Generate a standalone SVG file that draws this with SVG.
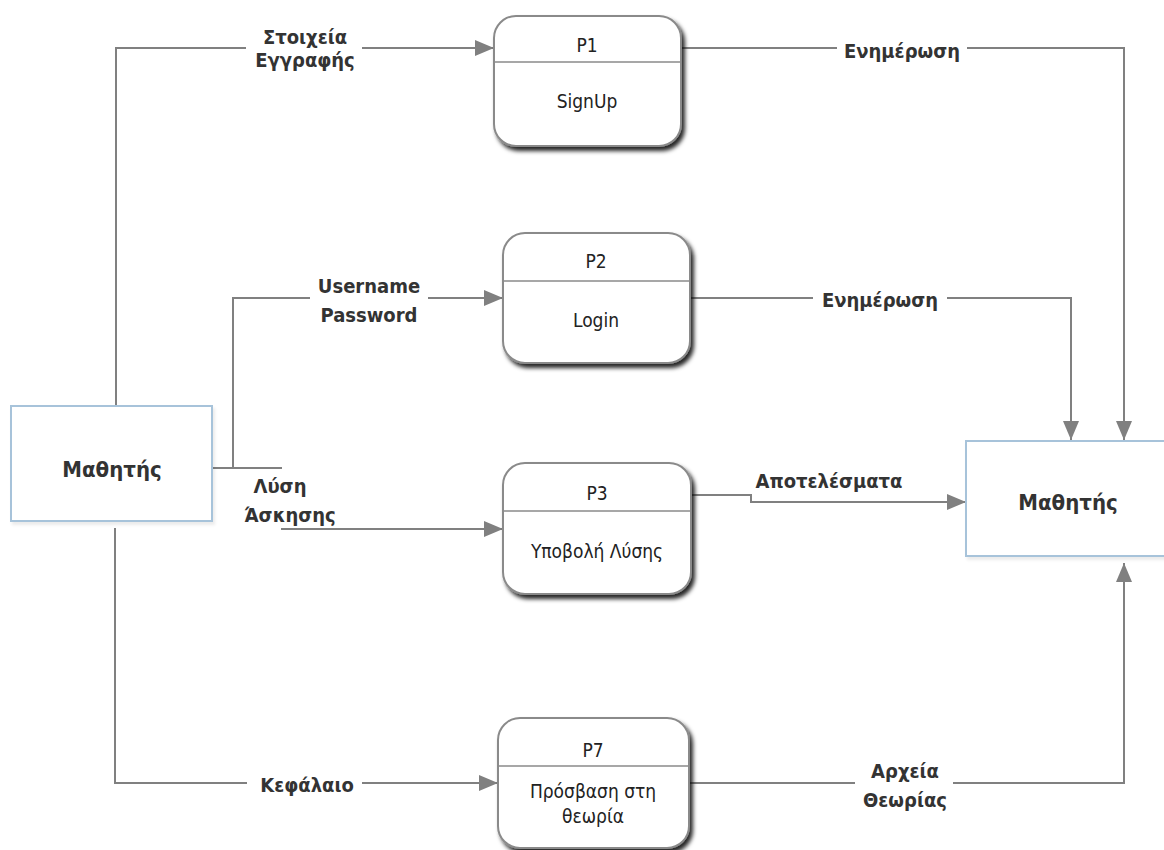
<svg xmlns="http://www.w3.org/2000/svg" width="1164" height="850" viewBox="0 0 1164 850">
  <style>
    .entity { fill: #ffffff; stroke: #a7c3da; stroke-width: 2; }
    .proc { fill: #ffffff; stroke: #8a8a8a; stroke-width: 2; }
    .divider { stroke: #8a8a8a; stroke-width: 1.5; }
    .flow { fill: none; stroke: #808080; stroke-width: 2; }
    .lbl { font-family: "DejaVu Sans Condensed", "DejaVu Sans", "Liberation Sans", sans-serif; font-stretch: condensed; font-weight: bold; font-size: 20px; fill: #333333; text-anchor: middle; }
    .ent { font-family: "DejaVu Sans Condensed", "DejaVu Sans", "Liberation Sans", sans-serif; font-stretch: condensed; font-weight: bold; font-size: 22px; fill: #333333; text-anchor: middle; }
    .ptxt { font-family: "DejaVu Sans Condensed", "DejaVu Sans", "Liberation Sans", sans-serif; font-stretch: condensed; font-size: 19px; fill: #222222; text-anchor: middle; }
  </style>
  <defs>
    <marker id="arrow" markerUnits="userSpaceOnUse" markerWidth="19" markerHeight="16" refX="19" refY="8" orient="auto">
      <path d="M0,0 L19,8 L0,16 z" fill="#808080"/>
    </marker>
    <filter id="shadow" x="-10%" y="-10%" width="125%" height="125%">
      <feDropShadow dx="3" dy="4" stdDeviation="2" flood-color="#000000" flood-opacity="0.85"/>
    </filter>
    <filter id="soft" x="-5%" y="-5%" width="115%" height="115%">
      <feDropShadow dx="2" dy="3" stdDeviation="1.5" flood-color="#000000" flood-opacity="0.08"/>
    </filter>
  </defs>

  <rect width="1164" height="850" fill="#ffffff"/>

  <!-- data flows -->
  <g id="connectors">
    <!-- Στοιχεία Εγγραφής -->
    <path class="flow" d="M116,406 V48 H246"/>
    <path class="flow" d="M362,48 H494" marker-end="url(#arrow)"/>
    <!-- Ενημέρωση from P1 -->
    <path class="flow" d="M681,48 H837"/>
    <path class="flow" d="M967,48 H1124 V440" marker-end="url(#arrow)"/>
    <!-- Username / Password -->
    <path class="flow" d="M212,468 H282"/>
    <path class="flow" d="M233,468 V298 H310"/>
    <path class="flow" d="M428,298 H503" marker-end="url(#arrow)"/>
    <!-- Λύση Άσκησης -->
    <path class="flow" d="M281,529 H503" marker-end="url(#arrow)"/>
    <!-- Ενημέρωση from P2 -->
    <path class="flow" d="M691,298 H813"/>
    <path class="flow" d="M947,298 H1071 V440" marker-end="url(#arrow)"/>
    <!-- Αποτελέσματα -->
    <path class="flow" d="M691,495 H751 V502 H966" marker-end="url(#arrow)"/>
    <!-- Κεφάλαιο -->
    <path class="flow" d="M115,528 V783 H247"/>
    <path class="flow" d="M362,783 H498" marker-end="url(#arrow)"/>
    <!-- Αρχεία Θεωρίας -->
    <path class="flow" d="M689,783 H855"/>
    <path class="flow" d="M953,783 H1124 V563" marker-end="url(#arrow)"/>

    <text class="lbl" x="305" y="44">Στοιχεία</text>
    <text class="lbl" x="305" y="67">Εγγραφής</text>
    <text class="lbl" x="902" y="58">Ενημέρωση</text>
    <text class="lbl" x="369" y="293">Username</text>
    <text class="lbl" x="369" y="322">Password</text>
    <text class="lbl" x="280" y="493">Λύση</text>
    <text class="lbl" x="290" y="522">Άσκησης</text>
    <text class="lbl" x="880" y="307">Ενημέρωση</text>
    <text class="lbl" x="829" y="488">Αποτελέσματα</text>
    <text class="lbl" x="307" y="792">Κεφάλαιο</text>
    <text class="lbl" x="905" y="778">Αρχεία</text>
    <text class="lbl" x="905" y="807">Θεωρίας</text>
  </g>

  <!-- external entity (left) -->
  <g id="student-left">
    <rect class="entity" x="11" y="406" width="201" height="115" filter="url(#soft)"/>
    <text class="ent" x="112" y="477">Μαθητής</text>
  </g>

  <!-- external entity (right) -->
  <g id="student-right">
    <rect class="entity" x="966" y="441" width="210" height="115" filter="url(#soft)"/>
    <text class="ent" x="1068" y="510">Μαθητής</text>
  </g>

  <!-- processes -->
  <g id="p1">
    <rect class="proc" x="494" y="16" width="187" height="130" rx="22" filter="url(#shadow)"/>
    <line class="divider" x1="494" y1="62" x2="681" y2="62"/>
    <text class="ptxt" x="587" y="52">P1</text>
    <text class="ptxt" x="587" y="108">SignUp</text>
  </g>

  <g id="p2">
    <rect class="proc" x="503" y="233" width="187" height="130" rx="22" filter="url(#shadow)"/>
    <line class="divider" x1="503" y1="281" x2="690" y2="281"/>
    <text class="ptxt" x="596" y="268">P2</text>
    <text class="ptxt" x="596" y="327">Login</text>
  </g>

  <g id="p3">
    <rect class="proc" x="503" y="463" width="188" height="131" rx="22" filter="url(#shadow)"/>
    <line class="divider" x1="503" y1="511" x2="691" y2="511"/>
    <text class="ptxt" x="597" y="500">P3</text>
    <text class="ptxt" x="597" y="558">Υποβολή Λύσης</text>
  </g>

  <g id="p7">
    <rect class="proc" x="498" y="718" width="191" height="130" rx="22" filter="url(#shadow)"/>
    <line class="divider" x1="498" y1="766" x2="689" y2="766"/>
    <text class="ptxt" x="593" y="757">P7</text>
    <text class="ptxt" x="593" y="798">Πρόσβαση στη</text>
    <text class="ptxt" x="593" y="823">θεωρία</text>
  </g>
</svg>
